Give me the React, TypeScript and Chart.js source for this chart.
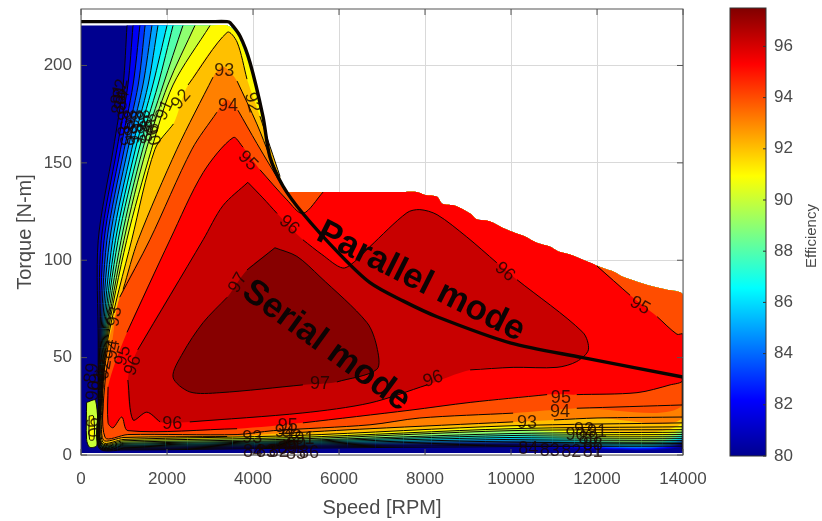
import React, { useEffect, useRef } from "react";
import { Chart, registerables } from "chart.js";

Chart.register(...registerables);

type Pt = number[]; // speed, torque, optional 1 = contour line is broken after this point

const xTicksMax = 14000;
const yTicksMax = 229;
const colorbarRange = [80, 97.5];

// Upper outline of the filled map
const mapOutline: Pt[] = [[0, 220.5], [3000, 220.5], [3400, 220.5], [3600, 217], [3700, 213], [3930, 199], [4230, 172], [4395, 151], [4700, 136], [4800, 135], [5000, 135], [5500, 135], [7500, 135], [7800, 135], [8000, 133.5], [8280, 132.6], [8400, 129], [8700, 128], [9050, 124], [9200, 121], [9500, 120], [9800, 116.7], [10100, 114], [10300, 112.5], [10600, 109], [10900, 107], [11100, 104.5], [11370, 103], [11700, 100], [12140, 96], [12400, 94], [12600, 91.5], [12930, 89], [13300, 86.5], [13600, 85], [14000, 82]];
// Thick black torque limit
const torqueLimit: Pt[] = [[0, 222.5], [1000, 222.5], [3000, 222.5], [3400, 222.5], [3465, 222], [3700, 215], [3930, 201.5], [4230, 174], [4395, 153], [4700, 138], [5160, 124], [6020, 103], [6720, 88.5], [7500, 79], [8280, 71], [9980, 57.6], [11670, 50], [14000, 40]];
const rightEdge: Pt[] = [[14000, 40], [14000, 2]];

const level80: Pt[] = [[0, 220.5], [0, 1], [14000, 1]];
const level81: Pt[] = [[1070, 220.5], [980, 190], [750, 157], [400, 110], [400, 59], [400, 25], [420, 3.5], [1000, 2.6], [5000, 3.5], [10000, 4.3], [14000, 4.5]];
const level82: Pt[] = [[1210, 220.5], [1090, 190], [835, 157], [470, 110], [420, 59], [405, 25], [425, 3.8], [1000, 3], [5000, 4], [10000, 5], [14000, 5.2]];
const level83: Pt[] = [[1370, 220.5], [1210, 190], [920, 157], [535, 110], [440, 59], [410, 25], [430, 4], [1000, 3.4], [5000, 4.5], [10000, 5.6], [14000, 5.9]];
const level84: Pt[] = [[1490, 220.5], [1330, 190], [1005, 157], [600, 110], [460, 59], [420, 25], [435, 4.2], [1000, 3.8], [5000, 5], [10000, 6.3], [14000, 6.6]];
const level85: Pt[] = [[1650, 220.5], [1440, 190], [1090, 157], [665, 110], [480, 59], [430, 25], [440, 4.4], [1000, 4.2], [5000, 5.5], [10000, 7.1], [14000, 7.4]];
const level86: Pt[] = [[1790, 220.5], [1560, 190], [1180, 157], [735, 110], [500, 59], [440, 25], [450, 4.6], [1000, 4.6], [5000, 6], [10000, 8], [14000, 8.4]];
const level87: Pt[] = [[2000, 220.5], [1670, 190], [1265, 157], [800, 110], [520, 59], [450, 25], [460, 4.8], [1000, 5], [5000, 6.5], [10000, 9], [14000, 9.4]];
const level88: Pt[] = [[2140, 220.5], [1790, 190], [1350, 157], [860, 110], [540, 59], [455, 25], [465, 5], [1000, 5.5], [5000, 7], [10000, 10], [14000, 10.5]];
const level89: Pt[] = [[2370, 220.5], [1910, 190], [1435, 157], [930, 110], [560, 59], [460, 25], [470, 5.3], [1000, 6], [5000, 7.5], [10000, 11], [14000, 11.7]];
const level90: Pt[] = [[2650, 220.5], [2020, 190], [1520, 157], [995, 110], [580, 59], [465, 25], [480, 5.6], [1000, 6.6], [5000, 8.2], [10000, 12.5], [14000, 13]];
const level91: Pt[] = [[3000, 220.5], [2140, 190], [1640, 157], [1060, 110], [600, 59], [470, 25], [490, 6], [1000, 7.3], [5000, 9], [10000, 13.5], [14000, 14.5]];
const level92: Pt[] = [[4630, 143], [4160, 174, 1], [3860, 193], [3630, 212], [3400, 217], [2490, 190, 1], [2150, 170], [1720, 157], [1180, 110.5], [620, 59], [490, 25], [510, 6.5], [1000, 8], [5000, 10], [10000, 15], [14000, 16.5]];
const level93: Pt[] = [[4700, 138], [4400, 153], [4090, 170], [3630, 192, 1], [3300, 199.5, 1], [3070, 194], [2230, 157], [1330, 110.5], [980, 85, 1], [650, 59], [510, 38], [510, 25], [520, 7.7], [1000, 9], [3400, 9.5, 1], [4600, 11], [6720, 13.5], [10050, 17, 1], [11000, 18], [12000, 19], [14000, 19.5]];
const level94: Pt[] = [[4750, 135.5], [4090, 160], [3650, 177, 1], [3390, 182.5, 1], [3160, 176], [2580, 157], [1600, 110.5], [900, 81, 1], [730, 59], [560, 38], [560, 9], [1090, 10.5], [3630, 10.5], [4470, 12.5], [6720, 15.5], [7880, 19], [10050, 21.5, 1], [11530, 24], [14000, 25.7]];
const level95: Pt[] = [[5630, 135], [5160, 124], [4790, 131], [4160, 146.5, 1], [3770, 158], [3540, 163], [2840, 145], [2070, 110.5], [1070, 63, 1], [630, 35], [630, 16.5], [745, 14], [950, 19.5], [1090, 12.5], [3630, 13.5, 1], [5160, 16.5], [7650, 23], [9050, 27], [10840, 31, 1], [11530, 31], [12930, 32], [13700, 36], [14000, 38.5], [14000, 62], [13860, 62], [13400, 71, 1], [12770, 82], [12000, 97]];
const level96: Pt[] = [[3880, 140], [4230, 132], [4560, 124, 1], [5160, 110.5], [5600, 103], [6090, 96], [6400, 100], [6720, 107], [7580, 124.4], [7880, 126], [8280, 123.4], [8970, 112], [9670, 98.7, 1], [10140, 90], [11670, 63], [11800, 54], [11530, 48], [11070, 45], [10050, 45], [9050, 43.7, 1], [8050, 36], [6720, 26.7], [5160, 21.6], [2530, 17, 1], [1840, 17], [1530, 22], [1210, 18], [1090, 38.5, 1], [1320, 54], [2840, 110.5], [3300, 128], [3880, 140]];
const level97: Pt[] = [[4510, 106.4], [3860, 95, 1], [3400, 81], [2840, 68], [2370, 52.4], [2140, 40], [2530, 32.4], [3230, 32], [5160, 36, 1], [5950, 37.5], [6880, 44], [6880, 55.5], [6650, 68], [5560, 91.5], [5020, 102], [4510, 106.4]];
const cornerIslandOuter: Pt[] = [[130, 27], [340, 28], [370, 5], [200, 4], [130, 8], [130, 27]];
const cornerIslandInner: Pt[] = [[190, 20], [290, 20], [300, 8], [200, 8], [190, 20]];

// text, speed, torque, rotation
const contourLabels: [string, number, number, number][] = [
  ["93", 3330, 197.4, 0], ["94", 3420, 179.4, 0], ["95", 3880, 151, 45], ["96", 4840, 118, 40],
  ["92", 2330, 182.5, -50], ["91", 1950, 177, -65], ["92", 3980, 181, 75],
  ["81", 880, 185, -80], ["82", 930, 188, -80], ["83", 900, 180, -80], ["84", 960, 182, -80],
  ["85", 1000, 172, 75], ["86", 1150, 172, 75], ["87", 1300, 172, 75], ["88", 1450, 172, 75], ["89", 1600, 170, 75],
  ["85", 1000, 164, 75], ["86", 1150, 164, 75], ["87", 1300, 165, 75], ["88", 1450, 165, 75], ["90", 1650, 164, 75],
  ["97", 3650, 88.4, -60], ["97", 5560, 36.5, 0], ["96", 2120, 16, 0], ["96", 8190, 39, -20], ["96", 9860, 94, 40],
  ["95", 13000, 76.6, 30], ["95", 11160, 29, 0], ["94", 11140, 22, 0], ["93", 10370, 16.5, 0],
  ["93", 790, 71, -80], ["94", 740, 54, -80], ["95", 980, 51, -75], ["96", 1210, 46, -70],
  ["92", 550, 44, -80], ["91", 430, 38, -80], ["90", 300, 33, -80], ["89", 250, 42, -80],
  ["90", 260, 14, 80],
  ["95", 4810, 15, 0], ["94", 4740, 12, 0], ["93", 3980, 8.7, 0], ["92", 4900, 9, 0], ["91", 5200, 8, 0], ["90", 5000, 5, 0], ["89", 4800, 3, 0],
  ["84", 4000, 1.5, 0], ["83", 4300, 1.5, 0], ["82", 4600, 1.5, 0], ["85", 5000, 0.5, 0], ["86", 5300, 1, 0],
  ["92", 11700, 13, 0], ["91", 12000, 12, 0], ["90", 11500, 10, 0], ["89", 11800, 8, 0], ["88", 11900, 5, 0],
  ["84", 10400, 3, 0], ["83", 10900, 2, 0], ["82", 11400, 1.5, 0], ["81", 11900, 1.5, 0],
];

const modeLabels: [string, number, number, number][] = [
  ["Parallel mode", 7900, 89, 26.7],
  ["Serial mode", 5700, 56, 36],
];

const levels: Pt[][] = [level80, level81, level82, level83, level84, level85, level86, level87, level88, level89, level90, level91, level92, level93, level94, level95, level96, level97];
const bandColors = ["#00008f", "#0000c2", "#0000f5", "#002fff", "#006aff", "#00a4ff", "#00deff", "#19ffe6", "#53ffac", "#8eff71", "#c8ff37", "#fffa00", "#ffc000", "#ff8000", "#ff4d00", "#ff0000", "#c80000", "#870000"];
const jetStops: [number, string][] = [[0, "#00008f"], [0.125, "#0000ff"], [0.375, "#00ffff"], [0.625, "#ffff00"], [0.875, "#ff0000"], [1, "#800000"]];
const xTickStep = 2000;
const yTickStep = 50;
const colorbarStep = 2;

const FONT = "'Liberation Sans', Arial, sans-serif";
const TEXT = "#4a4a4a";
const CURVE = 0.3;

function toXY(p: Pt) { return { x: p[0], y: p[1] }; }

function fillPoints(c: Pt[], i: number): Pt[] {
  if (i >= 16) return c; // closed on their own
  const a = c[0][0];
  const b = c[c.length - 1][0];
  const tail = mapOutline.filter((p) => p[0] > a && p[0] <= b).reverse();
  return [...c, ...tail, c[0]];
}

function strokePoints(c: Pt[]) {
  const out: { x: number; y: number }[] = [];
  c.forEach((p) => {
    out.push(toXY(p));
    if (p[2]) out.push({ x: NaN, y: NaN });
  });
  return out;
}

function fillDs(points: Pt[], color: string, curve = CURVE) {
  return { data: points.map(toXY), showLine: true, fill: "shape", backgroundColor: color, borderWidth: 0, borderColor: "rgba(0,0,0,0)", pointRadius: 0, tension: curve };
}
function lineDs(data: { x: number; y: number }[], width: number, curve = CURVE) {
  return { data, showLine: true, fill: false, borderColor: "#0a0500", borderWidth: width, pointRadius: 0, tension: curve };
}

export default function App() {
  const mainRef = useRef<HTMLCanvasElement>(null);
  const barRef = useRef<HTMLCanvasElement>(null);

  useEffect(() => {
    const drawn: any[] = [];
    levels.forEach((c, i) => drawn.push(fillDs(fillPoints(c, i), bandColors[i], i === 0 ? 0 : CURVE)));
    drawn.push(fillDs(cornerIslandOuter, "#c8ff37"));
    drawn.push(fillDs(cornerIslandInner, "#fffa00"));
    levels.slice(1).forEach((c) => drawn.push(lineDs(strokePoints(c), 1)));
    drawn.push(lineDs(strokePoints(cornerIslandOuter), 1));
    drawn.push(lineDs(strokePoints(cornerIslandInner), 1));
    drawn.push(lineDs(strokePoints(rightEdge), 2.5, 0));
    drawn.push(lineDs(strokePoints(torqueLimit), 3.4));

    const overlay = {
      id: "overlay",
      afterDatasetsDraw(chart: any) {
        const { ctx, chartArea: a, scales } = chart;
        const sx = scales.x;
        const sy = scales.y;
        ctx.save();
        ctx.strokeStyle = "#555555";
        ctx.lineWidth = 1;
        for (let v = 0; v <= xTicksMax; v += xTickStep) {
          const px = sx.getPixelForValue(v);
          ctx.beginPath();
          ctx.moveTo(px, a.top); ctx.lineTo(px, a.top + 6);
          ctx.moveTo(px, a.bottom); ctx.lineTo(px, a.bottom - 6);
          ctx.stroke();
        }
        for (let v = 0; v <= yTicksMax; v += yTickStep) {
          const py = sy.getPixelForValue(v);
          ctx.beginPath();
          ctx.moveTo(a.left, py); ctx.lineTo(a.left + 6, py);
          ctx.moveTo(a.right, py); ctx.lineTo(a.right - 6, py);
          ctx.stroke();
        }
        ctx.strokeRect(a.left, a.top, a.right - a.left, a.bottom - a.top);

        ctx.textAlign = "center";
        ctx.textBaseline = "middle";
        const put = (t: string, x: number, y: number, r: number) => {
          ctx.save();
          ctx.translate(sx.getPixelForValue(x), sy.getPixelForValue(y));
          ctx.rotate((r * Math.PI) / 180);
          ctx.fillText(t, 0, 0);
          ctx.restore();
        };
        ctx.font = `18px ${FONT}`;
        ctx.fillStyle = "rgba(25,5,0,0.82)";
        contourLabels.forEach(([t, x, y, r]) => put(t, x, y, r));
        ctx.font = `bold 35px ${FONT}`;
        ctx.fillStyle = "#0c0404";
        modeLabels.forEach(([t, x, y, r]) => put(t, x, y, r));
        ctx.restore();
      },
    };

    const main = new Chart(mainRef.current as HTMLCanvasElement, {
      type: "scatter",
      data: { datasets: drawn.reverse() },
      plugins: [overlay],
      options: {
        animation: false,
        responsive: false,
        layout: { padding: { top: 9, right: 139, left: 0, bottom: 0 } },
        plugins: { legend: { display: false }, tooltip: { enabled: false } },
        scales: {
          x: {
            type: "linear", min: 0, max: xTicksMax,
            afterFit: (s: any) => { s.height = 66; s.paddingLeft = 0; s.paddingRight = 0; },
            grid: { color: "#d9d9d9", drawTicks: false },
            border: { display: false },
            ticks: { stepSize: xTickStep, color: TEXT, font: { family: FONT, size: 17 }, padding: 14, maxRotation: 0, callback: (v: any) => String(v) },
            title: { display: true, text: "Speed [RPM]", color: TEXT, font: { family: FONT, size: 20 }, padding: { top: 0, bottom: 1 } },
          },
          y: {
            type: "linear", min: 0, max: yTicksMax,
            afterFit: (s: any) => { s.width = 81; s.paddingTop = 0; s.paddingBottom = 0; },
            grid: { color: "#d9d9d9", drawTicks: false },
            border: { display: false },
            ticks: { stepSize: yTickStep, includeBounds: false, color: TEXT, font: { family: FONT, size: 17 }, padding: 9, callback: (v: any) => String(v) },
            title: { display: true, text: "Torque [N-m]", color: TEXT, font: { family: FONT, size: 20 }, padding: { top: 13, bottom: 0 } },
          },
        },
      } as any,
    });

    const barOverlay = {
      id: "barOverlay",
      afterDatasetsDraw(chart: any) {
        const { ctx, chartArea: a, scales } = chart;
        ctx.save();
        ctx.strokeStyle = "#333333";
        ctx.lineWidth = 1;
        ctx.strokeRect(a.left, a.top, a.right - a.left, a.bottom - a.top);
        for (let v = colorbarRange[0]; v <= colorbarRange[1]; v += colorbarStep) {
          const py = scales.y.getPixelForValue(v);
          ctx.beginPath();
          ctx.moveTo(a.right, py); ctx.lineTo(a.right - 3, py);
          ctx.stroke();
        }
        ctx.translate(90, 236);
        ctx.rotate(-Math.PI / 2);
        ctx.font = `15px ${FONT}`;
        ctx.fillStyle = TEXT;
        ctx.textAlign = "center";
        ctx.textBaseline = "middle";
        ctx.fillText("Efficiency", 0, 0);
        ctx.restore();
      },
    };

    const bar = new Chart(barRef.current as HTMLCanvasElement, {
      type: "bar",
      data: {
        labels: ["Efficiency"],
        datasets: [{
          data: [colorbarRange as any],
          barPercentage: 1,
          categoryPercentage: 1,
          backgroundColor: (c: any) => {
            const area = c.chart.chartArea;
            if (!area) return "#000";
            const g = c.chart.ctx.createLinearGradient(0, area.bottom, 0, area.top);
            jetStops.forEach(([t, col]) => g.addColorStop(t, col));
            return g;
          },
        }],
      },
      plugins: [barOverlay],
      options: {
        animation: false,
        responsive: false,
        layout: { padding: { top: 8, bottom: 65, left: 8, right: 0 } },
        plugins: { legend: { display: false }, tooltip: { enabled: false } },
        scales: {
          x: { display: false },
          y: {
            position: "right", min: colorbarRange[0], max: colorbarRange[1],
            afterFit: (s: any) => { s.width = 56; s.paddingTop = 0; s.paddingBottom = 0; },
            grid: { display: false, drawTicks: false },
            border: { display: false },
            ticks: { stepSize: colorbarStep, includeBounds: false, color: TEXT, font: { family: FONT, size: 17 }, padding: 8 },
          },
        },
      } as any,
    });

    return () => { main.destroy(); bar.destroy(); };
  }, []);

  const blur = "blur(0.5px)";
  return (
    <div style={{ position: "fixed", left: 0, top: 0, width: 822, height: 521, background: "#fff", overflow: "hidden" }}>
      <canvas ref={mainRef} width={822} height={521} style={{ position: "absolute", left: 0, top: 0, filter: blur }} />
      <canvas ref={barRef} width={100} height={521} style={{ position: "absolute", left: 722, top: 0, filter: blur }} />
    </div>
  );
}
